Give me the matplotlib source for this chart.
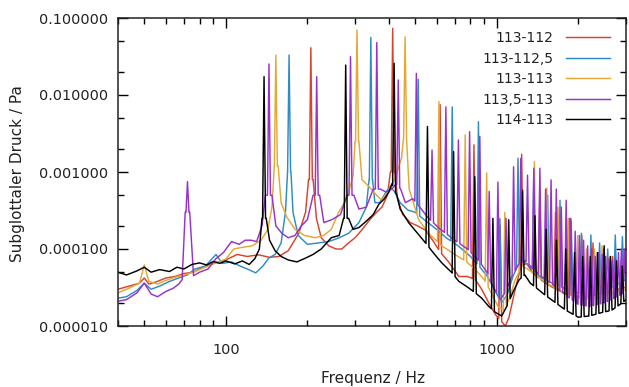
import numpy as np
import matplotlib
matplotlib.use("Agg")
import matplotlib.pyplot as plt
from matplotlib.ticker import LogLocator, FixedLocator, NullFormatter

# ---------------- data ----------------
labels = ["113-112", "113-112,5", "113-113", "113,5-113", "114-113"]

# 113-112 (red)
red_base_f = [40, 44, 48, 50, 52, 56, 60, 65, 70, 76, 82, 90, 100, 110, 120, 132, 145, 157, 170, 186, 197, 202,
              210, 216, 225, 240, 255, 268, 284, 300, 317, 340, 360, 377, 395, 405, 421, 430, 450, 480, 510,
              546, 580, 620, 660, 725, 780, 833, 880, 934, 990, 1040, 1076, 1110, 1170, 1230, 1290, 1350,
              1450, 1600, 1800, 2000, 2300, 2600, 3000]
red_base_v = [3.0e-5, 3.3e-5, 3.6e-5, 4.2e-5, 3.5e-5, 3.8e-5, 4.2e-5, 4.4e-5, 4.8e-5, 5.0e-5, 5.8e-5, 6.5e-5,
              7.2e-5, 8.5e-5, 8.0e-5, 8.4e-5, 7.8e-5, 8.0e-5, 9.5e-5, 1.6e-4, 3.0e-4, 8e-4,
              8e-4, 2.5e-4, 1.4e-4, 1.1e-4, 1.0e-4, 1.0e-4, 1.2e-4, 1.4e-4, 1.75e-4, 2.4e-4, 3.0e-4, 3.5e-4,
              5e-4, 1.0e-3, 1.0e-3, 4.5e-4, 2.8e-4, 2.2e-4, 2.0e-4,
              1.75e-4, 1.3e-4, 9e-5, 7e-5, 4.4e-5, 4.4e-5, 4.0e-5, 3.0e-5, 2.0e-5, 1.4e-5, 1.15e-5, 1.0e-5,
              1.3e-5, 3.0e-5, 6.0e-5, 6.5e-5, 5.0e-5,
              4.0e-5, 3.2e-5, 2.6e-5, 2.4e-5, 2.5e-5, 2.8e-5, 3.2e-5]
red_peak_f = [206, 413, 618, 824, 1030, 1236, 1442, 1648, 1854, 2060, 2266, 2472, 2678, 2884]
red_peak_v = [0.0411, 0.0735, 0.0075, 0.00225, 2.0e-4, 0.0017, 6e-4, 3e-4, 2.5e-4, 1.5e-4, 1.2e-4, 1.0e-4,
              8e-5, 7e-5]

# 113-112,5 (blue)
blue_base_f = [40, 43, 47, 50, 53, 57, 62, 67, 72, 77, 84, 92, 97, 105, 113, 120, 129, 137, 144, 152, 160, 166,
               169, 174, 177, 185, 200, 220, 240, 262, 284, 310, 330, 338, 348, 355, 370, 390, 405, 420, 440,
               470, 500, 540, 600, 650, 720, 800, 860, 920, 980, 1040, 1090, 1150, 1220, 1290, 1380, 1500,
               1700, 1900, 2100, 2400, 2700, 3000]
blue_base_v = [2.3e-5, 2.4e-5, 2.9e-5, 3.6e-5, 3.0e-5, 3.3e-5, 3.8e-5, 4.2e-5, 4.6e-5, 5.5e-5, 6.0e-5, 8.5e-5,
               6.5e-5, 6.8e-5, 6.0e-5, 5.5e-5, 4.9e-5, 6.0e-5, 7.6e-5, 8.5e-5, 1.2e-4, 3.0e-4,
               1.0e-3, 1.0e-3, 3.0e-4, 1.5e-4, 1.15e-4, 1.2e-4, 1.25e-4, 1.4e-4, 1.6e-4, 2.2e-4, 3.5e-4, 8e-4,
               8e-4, 4e-4, 4e-4, 5.5e-4, 6.5e-4, 5.5e-4, 4.0e-4,
               3.2e-4, 3.0e-4, 2.4e-4, 1.8e-4, 1.4e-4, 1.1e-4, 8e-5, 6e-5, 4.5e-5, 3e-5, 2.0e-5, 2.5e-5,
               4.5e-5, 7.0e-5, 6.5e-5, 5.0e-5, 4.0e-5,
               3.3e-5, 2.8e-5, 2.6e-5, 2.8e-5, 3.3e-5, 4.0e-5]
blue_peak_f = [171.2, 343, 513, 685, 856, 1027, 1198, 1370, 1541, 1712, 1883, 2054, 2226, 2397, 2568, 2739, 2910]
blue_peak_v = [0.033, 0.056, 0.016, 0.0070, 0.0045, 2.5e-4, 0.00151, 1.0e-3, 5e-4, 4.3e-4, 2.3e-4, 1.6e-4,
               1.52e-4, 1.2e-4, 1.0e-4, 1.52e-4, 1.45e-4]

# 113-113 (yellow)
yellow_base_f = [40, 44, 48, 50, 52, 56, 60, 65, 70, 76, 82, 90, 100, 107, 115, 125, 135, 143, 148, 151, 156,
                 160, 168, 180, 195, 214, 230, 245, 261, 280, 295, 300, 310, 318, 337, 360, 376, 395, 420, 445,
                 454, 464, 475, 515, 560, 627, 700, 766, 830, 900, 960, 1010, 1060, 1110, 1170, 1240, 1300,
                 1400, 1550, 1750, 2000, 2300, 2600, 3000]
yellow_base_v = [2.7e-5, 3.1e-5, 3.6e-5, 6.2e-5, 3.8e-5, 3.5e-5, 3.9e-5, 4.3e-5, 4.6e-5, 5.0e-5, 5.6e-5, 6.4e-5,
                 7.4e-5, 1.0e-4, 1.05e-4, 1.1e-4, 1.3e-4, 1.8e-4, 3.5e-4, 1.2e-3, 1.2e-3,
                 4e-4, 2.6e-4, 1.8e-4, 1.5e-4, 1.4e-4, 1.5e-4, 1.8e-4, 3.0e-4, 4.5e-4, 9e-4, 2.5e-3, 2.5e-3,
                 8e-4, 6.5e-4, 5e-4, 4.3e-4, 5.5e-4, 8e-4, 1.5e-3,
                 3e-3, 3e-3, 6e-4, 2.4e-4, 1.6e-4, 1.1e-4, 8.5e-5, 7e-5, 5.5e-5, 4.0e-5, 2.6e-5, 1.8e-5,
                 1.6e-5, 2.2e-5, 4.0e-5, 6.0e-5, 5.5e-5,
                 4.5e-5, 3.5e-5, 2.8e-5, 2.3e-5, 2.2e-5, 2.6e-5, 3.0e-5]
yellow_peak_f = [153, 305, 459, 612, 765, 918, 1071, 1224, 1377, 1530, 1683, 1836, 1989, 2142, 2295, 2448,
                 2601, 2754, 2907]
yellow_peak_v = [0.033, 0.0698, 0.057, 0.0082, 0.00303, 0.00097, 3e-4, 5e-4, 0.00136, 0.00062, 3.5e-4,
                 2.5e-4, 1.5e-4, 1.0e-4, 1.0e-4, 1.1e-4, 8e-5, 7e-5, 6e-5]

# 113,5-113 (purple)
purple_base_f = [40, 43, 47, 50, 53, 56, 60, 64, 67, 69, 70.8, 73.6, 76, 80, 86, 92, 98, 105, 112, 118, 124,
                 130, 136, 140,
                 148, 153, 161, 170, 180, 190, 200, 210, 222, 230, 246, 265, 280, 297, 310, 330, 350, 372,
                 390, 410, 425, 442, 460, 490, 520, 560, 620, 700, 780, 860, 920, 980, 1030, 1080, 1140,
                 1210, 1280, 1360, 1450, 1600, 1800, 2000, 2200, 2500, 2800, 3000]
purple_base_v = [2.1e-5, 2.2e-5, 2.7e-5, 3.6e-5, 2.6e-5, 2.4e-5, 2.8e-5, 3.1e-5, 3.5e-5, 4.0e-5, 3.0e-4,
                 3.0e-4, 4.5e-5, 5.0e-5, 5.5e-5, 7.5e-5, 9.0e-5, 1.25e-4, 1.15e-4, 1.3e-4, 1.3e-4,
                 1.25e-4, 2.0e-4, 5e-4,
                 5e-4, 2.0e-4, 1.6e-4, 1.4e-4, 1.5e-4, 2.0e-4, 2.4e-4, 5e-4, 5e-4, 2.2e-4, 2.4e-4, 2.8e-4,
                 5e-4, 5e-4, 3.3e-4, 3.5e-4, 6e-4, 6e-4,
                 5.5e-4, 6e-4, 7e-4, 6e-4, 4e-4, 4.5e-4, 3.5e-4, 2.5e-4, 1.8e-4, 1.3e-4, 1.0e-4, 7e-5, 5e-5,
                 3.0e-5, 2.2e-5, 2.8e-5, 4.5e-5,
                 6.5e-5, 7.0e-5, 5.5e-5, 4.5e-5, 3.5e-5, 2.5e-5, 1.9e-5, 1.8e-5, 2.0e-5, 2.4e-5, 2.8e-5]
purple_peak_f = [72.2, 144.3, 216.5, 288.6, 360.8, 433, 505, 577, 649, 722, 794, 866, 938, 1010, 1082, 1154,
                 1227, 1299, 1371, 1443, 1515, 1587, 1659, 1731, 1804, 1876, 1948, 2020, 2092, 2165, 2237,
                 2309, 2381, 2453, 2525, 2598, 2670, 2742, 2814, 2886, 2958]
purple_peak_v = [7.5e-4, 0.0253, 0.0173, 0.0315, 0.048, 0.0157, 0.0191, 0.00193, 0.0070, 0.0026, 0.00334,
                 0.0029, 5.6e-4, 7.4e-4, 2.5e-4, 0.00117, 0.0015, 9.1e-4, 0.00112, 0.00112, 6e-4, 7.9e-4,
                 6e-4, 3.5e-4, 4.3e-4, 2.5e-4, 1.7e-4, 1.5e-4, 1.3e-4, 1.1e-4, 1.0e-4,
                 8e-5, 9e-5, 8.5e-5, 8e-5, 7.5e-5, 7e-5, 7.5e-5, 9e-5, 1.0e-4, 1.0e-4]

# 114-113 (black)
black_base_f = [40, 43, 47, 50, 53, 57, 62, 66, 70, 75, 80, 85, 90, 95, 100, 108, 115, 122, 128, 133, 136,
                141, 145, 152, 160, 170, 183, 195, 210, 225, 245, 262, 272, 284, 295, 310, 330, 350, 367, 385,
                400, 410, 428, 440, 473, 510, 546, 590, 627, 680, 725, 780, 833, 880, 934, 990, 1043, 1090,
                1150, 1210, 1270, 1330, 1420, 1513, 1650, 1800, 2000, 2200, 2450, 2655, 2850, 3000]
black_base_v = [5.0e-5, 4.6e-5, 5.2e-5, 5.8e-5, 5.0e-5, 5.4e-5, 5.1e-5, 5.8e-5, 5.5e-5, 6.3e-5, 6.6e-5,
                6.2e-5, 6.9e-5, 6.5e-5, 7.0e-5, 6.4e-5, 7.0e-5, 6.3e-5, 7.5e-5, 1.0e-4, 2.5e-4,
                2.5e-4, 1.3e-4, 9.5e-5, 8.0e-5, 7.2e-5, 6.8e-5, 7.5e-5, 8.5e-5, 1.0e-4, 1.4e-4, 1.5e-4,
                2.5e-4, 2.5e-4, 1.8e-4, 1.9e-4, 2.3e-4, 2.8e-4, 3.8e-4, 4.5e-4,
                5.5e-4, 7e-4, 5e-4, 3.3e-4, 2.2e-4, 1.6e-4, 1.2e-4, 8.5e-5, 6.6e-5, 5.0e-5, 3.8e-5, 3.2e-5,
                2.7e-5, 2.3e-5, 1.8e-5, 1.5e-5, 1.35e-5, 1.8e-5,
                2.8e-5, 4.0e-5, 4.6e-5, 3.6e-5, 3.0e-5, 2.5e-5, 2.0e-5, 1.6e-5, 1.3e-5, 1.35e-5, 1.5e-5,
                1.6e-5, 1.9e-5, 2.2e-5]
black_peak_f = [138.4, 277, 418, 555, 693, 830, 968, 1107, 1246, 1384, 1522, 1661, 1799, 1938, 2076, 2215,
                2353, 2492, 2630, 2768, 2907]
black_peak_v = [0.0173, 0.0245, 0.0258, 0.0039, 0.00184, 8.7e-4, 2.5e-4, 2.4e-4, 5.8e-4, 2.7e-4, 1.8e-4,
                1.3e-4, 1.0e-4, 9e-5, 8e-5, 8e-5, 9e-5, 1.1e-4, 8e-5, 7e-5, 6e-5]

colors = ["#d8432e", "#2e8cc4", "#e3a934", "#9932cc", "#000000"]

x_ticks = [100, 1000]
x_ticklabels = ["100", "1000"]
y_ticks = [1e-5, 1e-4, 1e-3, 1e-2, 1e-1]
y_ticklabels = ["0.000010", "0.000100", "0.001000", "0.010000", "0.100000"]

# ---------------- drawing ----------------
HW = 0.0055  # half width of a harmonic spike, in decades


def trace(bf, bv, pf, pv):
    lbf = np.log10(np.asarray(bf, float))
    lbv = np.log10(np.asarray(bv, float))
    lp = np.log10(np.asarray(pf, float))
    lh = np.log10(np.asarray(pv, float))
    keep = np.ones(len(lbf), bool)
    for c in lp:
        keep &= ~((lbf > c - HW) & (lbf < c + HW))
    xs = list(lbf[keep])
    ys = list(lbv[keep])
    for c, h in zip(lp, lh):
        for x in (c - HW, c + HW):
            xs.append(x)
            ys.append(np.interp(x, lbf, lbv))
        xs.append(c)
        ys.append(h)
    xs = np.array(xs)
    ys = np.array(ys)
    o = np.argsort(xs)
    return 10 ** xs[o], 10 ** ys[o]


series = [
    (red_base_f, red_base_v, red_peak_f, red_peak_v),
    (blue_base_f, blue_base_v, blue_peak_f, blue_peak_v),
    (yellow_base_f, yellow_base_v, yellow_peak_f, yellow_peak_v),
    (purple_base_f, purple_base_v, purple_peak_f, purple_peak_v),
    (black_base_f, black_base_v, black_peak_f, black_peak_v),
]

plt.rcParams["font.family"] = ["DejaVu Sans"]
fig = plt.figure(figsize=(6.29, 3.87), dpi=100)
ax = fig.add_axes([118 / 629, 61 / 387, 508 / 629, 308 / 387])

for (bf, bv, pf, pv), c, lab in zip(series, colors, labels):
    x, y = trace(bf, bv, pf, pv)
    ax.plot(x, y, color=c, lw=1.05, label=lab)

ax.set_xscale("log")
ax.set_yscale("log")
ax.set_xlim(40, 3000)
ax.set_ylim(1e-5, 1e-1)

ax.xaxis.set_major_locator(FixedLocator(x_ticks))
ax.set_xticklabels(x_ticklabels)
ax.xaxis.set_minor_locator(LogLocator(base=10, subs=np.arange(2, 10)))
ax.xaxis.set_minor_formatter(NullFormatter())
ax.yaxis.set_major_locator(FixedLocator(y_ticks))
ax.set_yticklabels(y_ticklabels)
ax.yaxis.set_minor_locator(LogLocator(base=10, subs=[2, 5]))
ax.yaxis.set_minor_formatter(NullFormatter())

ax.tick_params(which="both", direction="in", top=True, right=True, colors="black", labelcolor="#222222",
               labelsize=10.4, width=1.0)
ax.tick_params(which="major", length=7)
ax.tick_params(which="minor", length=4)
ax.tick_params(axis="x", which="major", pad=12)
ax.tick_params(axis="y", which="major", pad=7)
for s in ax.spines.values():
    s.set_linewidth(1.1)
    s.set_color("#222222")

fig.text(18 / 629, 1 - 174 / 387, "Subglottaler Druck / Pa", rotation=90, ha="center", va="center",
         fontsize=11, color="#222222")
fig.text(373 / 629, 1 - 379 / 387, "Frequenz / Hz", ha="center", va="center", fontsize=11, color="#222222")

leg = ax.legend(loc="upper right", bbox_to_anchor=((610 - 118) / 508, 1 - (31 - 18) / 308),
                frameon=False, markerfirst=False, fontsize=10, handlelength=3.2, handletextpad=0.85,
                labelspacing=0.47, borderaxespad=0, borderpad=0)
for t in leg.get_texts():
    t.set_color("#222222")

fig.savefig("out.png", dpi=100)
